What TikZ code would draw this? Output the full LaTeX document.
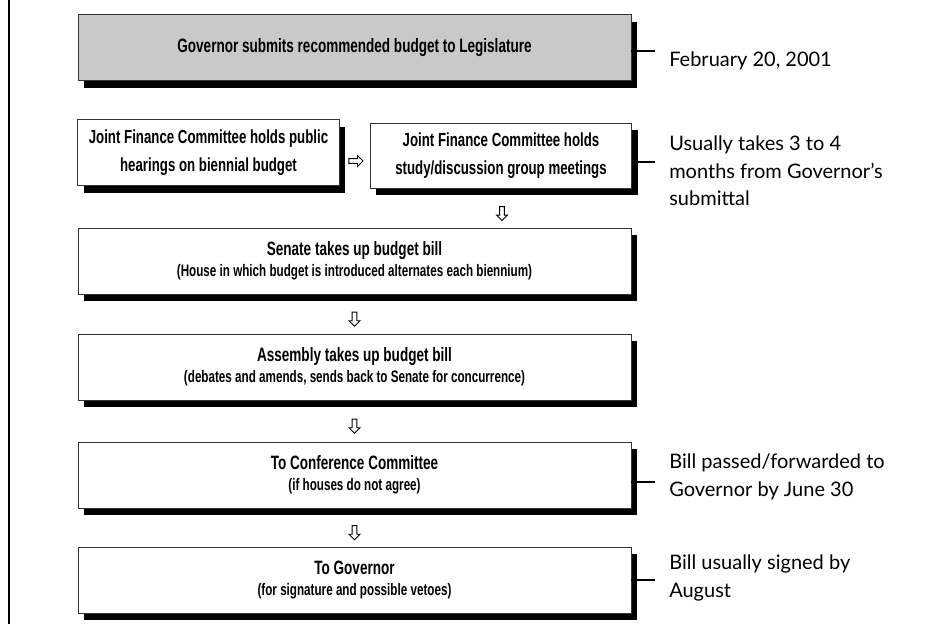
\documentclass[tikz,border=0pt]{standalone}
\usepackage{fontspec}
\setmainfont{Lato}
\newfontfamily\condfont{Liberation Sans}[FakeStretch=0.7]
\usetikzlibrary{shapes.arrows,shadows,calc}
\newcommand{\paren}[1]{{\fontsize{12.5}{14}\selectfont #1}}

\begin{document}
\begin{tikzpicture}[x=0.75pt,y=-0.75pt]
\tikzstyle{stage}=[draw=black!80,line width=0.6pt,fill=white,minimum width=414.75pt,minimum height=49.5pt,align=center,inner sep=1pt,font=\condfont\bfseries\fontsize{14.5}{20.5}\selectfont,drop shadow={shadow xshift=4.5pt,shadow yshift=-5.5pt,opacity=1,fill=black}]
\tikzstyle{jfc}=[stage,minimum width=196pt,font=\condfont\bfseries\fontsize{14.2}{20.5}\selectfont]
\tikzstyle{note}=[anchor=west,align=left,inner sep=0pt,font=\fontsize{15}{20.6}\selectfont]
\tikzstyle{tick}=[line width=1.5pt]
\tikzstyle{hollow}=[single arrow,draw,line width=0.7pt,fill=white,inner sep=1.4pt,minimum height=10.5pt,single arrow head extend=2.3pt]
\useasboundingbox (0,0) rectangle (938,624);
\draw[line width=2pt] (9,0) -- (9,624);

\node[stage,fill=black!21] (submit) at (354.5,47.5) {Governor submits recommended budget to Legislature};
\node[jfc] (hearings) at (208.5,152.5) {Joint Finance Committee holds public\\hearings on biennial budget};
\node[jfc,minimum height=48.75pt] (meetings) at (501,155.5) {Joint Finance Committee holds\\study/discussion group meetings};
\node[stage] (senate) at (354.5,261) {Senate takes up budget bill\\[-4.5pt]\paren{(House in which budget is introduced alternates each biennium)}};
\node[stage] (assembly) at (354.5,367) {Assembly takes up budget bill\\[-4.5pt]\paren{(debates and amends, sends back to Senate for concurrence)}};
\node[stage] (conference) at (354.5,475) {To Conference Committee\\[-4.5pt]\paren{(if houses do not agree)}};
\node[stage] (governor) at (354.5,580) {To Governor\\[-4.5pt]\paren{(for signature and possible vetoes)}};

\node[hollow] (a1) at ($(hearings.east)!0.5!(meetings.west)+(0,7)$) {};
\node[hollow,shape border rotate=270] (a2) at ($(meetings.south)+(1,24)$) {};
\node[hollow,shape border rotate=270] (a3) at ($(senate.south)!0.5!(assembly.north)+(0,4)$) {};
\node[hollow,shape border rotate=270] (a4) at ($(assembly.south)!0.5!(conference.north)+(0,4)$) {};
\node[hollow,shape border rotate=270] (a5) at ($(conference.south)!0.5!(governor.north)+(0,4)$) {};

\node[note] (feb) at (669,61) {February 20, 2001};
\node[note] (months) at (669,171) {Usually takes 3 to 4\\months from Governor’s\\submittal};
\node[note] (june) at (669,477) {Bill passed/forwarded to\\Governor by June 30};
\node[note] (august) at (669,578) {Bill usually signed by\\August};

\foreach \b/\y in {submit/51,meetings/162,conference/482,governor/580}{
  \coordinate (tip-\b) at (655,\y);
  \draw[tick] (\b.east |- tip-\b) -- (tip-\b);
}
\end{tikzpicture}
\end{document}
